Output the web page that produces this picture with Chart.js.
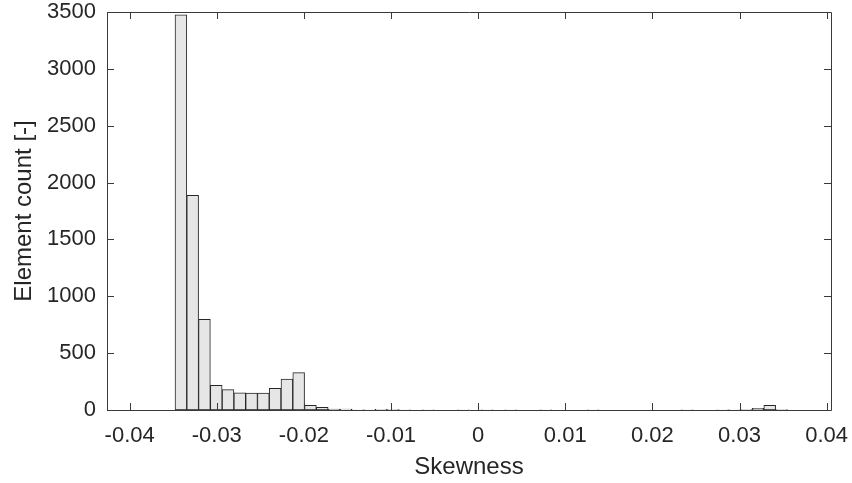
<!DOCTYPE html>
<html>
<head>
<meta charset="utf-8">
<script src="https://cdn.jsdelivr.net/npm/chart.js@4.4.1/dist/chart.umd.min.js"></script>
<style>
  body { margin: 0; background: #fff; }
  #hist { display: block; }
</style>
</head>
<body>
<canvas id="hist" width="852" height="483"></canvas>
<script>
// histogram bins (left edge of the first bin shown + constant bin width)
const firstEdge = -0.041551;
const binWidth = 0.0013517;
// element count per bin
const counts = [
  0, 0, 0, 0, 0,
  3476, 1888, 797, 217, 179, 150, 148, 148, 191, 273,
  328, 41, 23, 9, 7, 2, 1, 6, 3, 1,
  0, 1, 0, 0, 2, 0, 1, 0, 1, 0,
  0, 1, 0, 0, 0, 1, 0, 0, 0, 0,
  0, 0, 0, 1, 0, 0, 1, 2, 3, 15,
  40, 3, 0, 0, 0
];
const xTicks = [-0.04, -0.03, -0.02, -0.01, 0, 0.01, 0.02, 0.03, 0.04];
const yTicks = [0, 500, 1000, 1500, 2000, 2500, 3000, 3500];

const binCenters = counts.map((c, i) => firstEdge + (i + 0.5) * binWidth);
const points = counts.map((c, i) => ({ x: binCenters[i], y: c }));

// box round the plot + inward tick marks on all four sides (matlab style)
const boxPlugin = {
	id: 'boxTicks',
	afterDraw(chart) {
		const { ctx, chartArea } = chart;
		const { left, right, top, bottom } = chartArea;
		const xs = chart.scales.x;
		const ys = chart.scales.y;
		const len = 7;
		ctx.save();
		ctx.strokeStyle = '#3a3a3a';
		ctx.lineWidth = 1;
		ctx.beginPath();
		ctx.rect(Math.round(left) + 0.5, Math.round(top) + 0.5, Math.round(right - left), Math.round(bottom - top));
		xs.ticks.forEach(t => {
			let px = Math.round(xs.getPixelForValue(t.value)) + 0.5;
			ctx.moveTo(px, bottom);
			ctx.lineTo(px, bottom - len);
			ctx.moveTo(px, top);
			ctx.lineTo(px, top + len);
		});
		ys.ticks.forEach(t => {
			let py = Math.round(ys.getPixelForValue(t.value)) + 0.5;
			ctx.moveTo(left, py);
			ctx.lineTo(left + len, py);
			ctx.moveTo(right, py);
			ctx.lineTo(right - len, py);
		});
		ctx.stroke();
		ctx.restore();
	}
};

const fontFamily = '"Liberation Sans", Arial, Helvetica, sans-serif';

new Chart(document.querySelector('#hist'), {
	type: 'bar',
	data: {
		datasets: [{
			data: points,
			backgroundColor: '#e6e6e6',
			borderColor: '#262626',
			borderWidth: 1,
			barPercentage: 1,
			categoryPercentage: 1,
			borderSkipped: false
		}]
	},
	options: {
		responsive: false,
		animation: false,
		layout: {
			padding: { left: 0, right: 21, top: 12, bottom: 0 }
		},
		plugins: {
			legend: { display: false },
			tooltip: { enabled: false }
		},
		scales: {
			x: {
				type: 'linear',
				min: -0.0426,
				max: 0.0405,
				offset: false,
				grid: { display: false, drawTicks: false },
				border: { display: false },
				afterBuildTicks: (scale) => {
					scale.ticks = xTicks.map(v => ({ value: v }));
				},
				afterFit: (scale) => {
					scale.height = 73;
					scale.paddingLeft = 0;
					scale.paddingRight = 0;
				},
				ticks: {
					color: '#262626',
					padding: 13,
					maxRotation: 0,
					autoSkip: false,
					font: { family: fontFamily, size: 22 },
					callback: (v) => String(Math.round(v * 100) / 100)
				},
				title: {
					display: true,
					text: 'Skewness',
					color: '#262626',
					padding: { top: 0, bottom: 1 },
					font: { family: fontFamily, size: 24 }
				}
			},
			y: {
				min: 0,
				max: 3500,
				grid: { display: false, drawTicks: false },
				border: { display: false },
				afterBuildTicks: (scale) => {
					scale.ticks = yTicks.map(v => ({ value: v }));
				},
				afterFit: (scale) => {
					scale.width = 107;
					scale.paddingTop = 0;
					scale.paddingBottom = 0;
				},
				ticks: {
					color: '#262626',
					padding: 11,
					font: { family: fontFamily, size: 22 },
					callback: (v) => String(v)
				},
				title: {
					display: true,
					text: 'Element count [-]',
					color: '#262626',
					padding: { top: 10, bottom: 0 },
					font: { family: fontFamily, size: 24 }
				}
			}
		}
	},
	plugins: [boxPlugin]
});
</script>
</body>
</html>
